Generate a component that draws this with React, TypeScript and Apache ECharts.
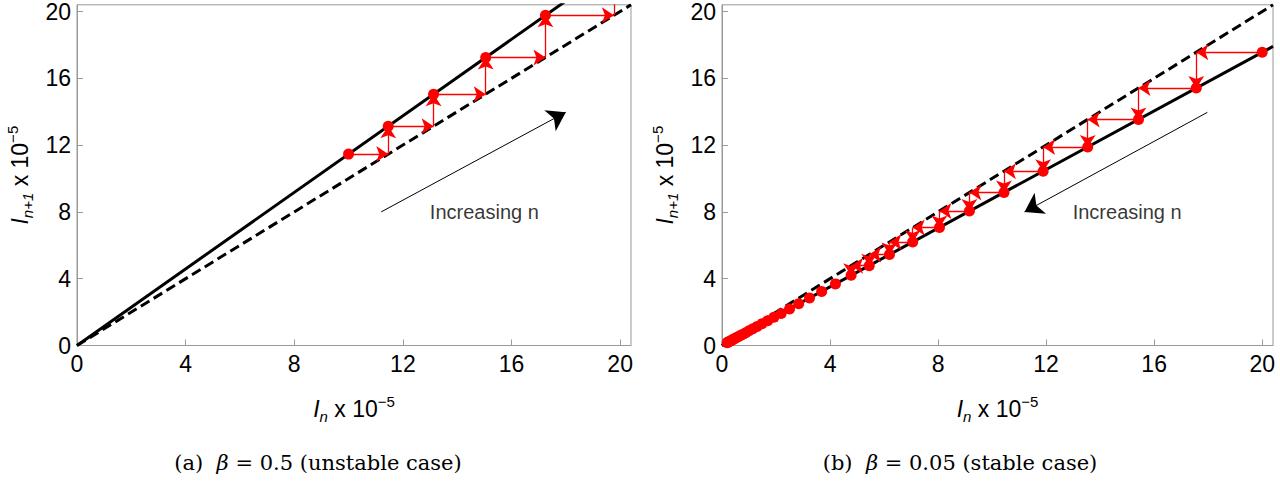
import React, { useEffect, useRef } from "react";
import * as echarts from "echarts";

// Iterates I_n (x 10^-5)
const LEFT_IN = [10.0, 11.46, 13.13, 15.05, 17.25, 19.77, 22.66];
const RIGHT_IN = [
  20.0, 17.56, 15.42, 13.54, 11.89, 10.44, 9.16, 8.05, 7.06, 6.2, 5.45, 4.78,
  4.2, 3.69, 3.24, 2.84, 2.5, 2.19, 1.92, 1.69, 1.48, 1.3, 1.14, 1.0, 0.88,
  0.77, 0.68, 0.6, 0.52, 0.46, 0.4, 0.36, 0.31, 0.27, 0.24, 0.21, 0.19, 0.16,
];
const LEFT_ARROW_STEPS = 5;
const RIGHT_ARROW_STEPS = 11;

// Reference lines (endpoints)
const LEFT_SOLID = [[0, 0], [20.4, 23.38]];
const RIGHT_SOLID = [[0, 0], [20.4, 17.91]];
const DIAGONAL = [[0, 0], [20.4, 20.4]];

// "Increasing n" arrows and labels
const LEFT_TREND = [[11.2, 8.0], [18.0, 13.97]];
const RIGHT_TREND = [[17.97, 13.96], [11.2, 8.0]];
const TREND_LABEL_POS = [15.0, 8.0];
const TREND_LABEL = "Increasing n";

const AXIS_MAX = 20.4;
const TICK_STEP = 4;
const CAPTIONS = ["(a)  {m|β} = 0.5 (unstable case)", "(b)  {m|β} = 0.05 (stable case)"];

const RED = "#ff0000";
const SANS = "Liberation Sans";
const SERIF = "DejaVu Serif";

function points(seq: number[]) {
  const pts: number[][] = [];
  for (let k = 0; k < seq.length - 1; k++) pts.push([seq[k], seq[k + 1]]);
  return pts;
}

function stairs(seq: number[], steps: number) {
  const arr: any[] = [];
  for (let k = 0; k < steps && k + 2 < seq.length; k++) {
    arr.push({ coords: [[seq[k], seq[k + 1]], [seq[k + 1], seq[k + 1]]] });
    arr.push({ coords: [[seq[k + 1], seq[k + 1]], [seq[k + 1], seq[k + 2]]] });
  }
  return arr;
}

const richName = {
  i: { fontSize: 23, fontStyle: "italic", lineHeight: 30, fontFamily: SANS, color: "#000" },
  sub: { fontSize: 15, fontStyle: "italic", lineHeight: 15, verticalAlign: "bottom", fontFamily: SANS, color: "#000" },
  t: { fontSize: 23, lineHeight: 30, fontFamily: SANS, color: "#000" },
  sup: { fontSize: 15, lineHeight: 15, verticalAlign: "top", fontFamily: SANS, color: "#000" },
};

function xAxis(gridIndex: number) {
  return {
    type: "value",
    gridIndex,
    min: 0,
    max: AXIS_MAX,
    interval: TICK_STEP,
    name: "{i|I}{sub|n}{t| x 10}{sup|−5}",
    nameLocation: "middle",
    nameGap: 48,
    nameTextStyle: { rich: richName, fontFamily: SANS },
    axisLine: { show: true, lineStyle: { color: "#999", width: 1 } },
    axisTick: { show: true, inside: true, length: 6, lineStyle: { color: "#999" } },
    axisLabel: {
      show: true,
      fontSize: 23,
      fontFamily: SANS,
      color: "#000",
      margin: 7,
      showMaxLabel: false,
      formatter: (v: number) => (v % TICK_STEP === 0 ? String(v) : ""),
    },
    splitLine: { show: false },
  };
}

function yAxis(gridIndex: number) {
  return {
    type: "value",
    gridIndex,
    min: 0,
    max: AXIS_MAX,
    interval: TICK_STEP,
    name: "{i|I}{sub|n+1}{t| x 10}{sup|−5}",
    nameLocation: "middle",
    nameGap: 42,
    nameTextStyle: { rich: richName, fontFamily: SANS },
    axisLine: { show: true, lineStyle: { color: "#999", width: 1 } },
    axisTick: { show: true, inside: true, length: 6, lineStyle: { color: "#999" } },
    axisLabel: {
      show: true,
      fontSize: 23,
      fontFamily: SANS,
      color: "#000",
      margin: 6,
      showMaxLabel: false,
      formatter: (v: number) => (v % TICK_STEP === 0 ? String(v) : ""),
    },
    splitLine: { show: false },
  };
}

function panelSeries(idx: number, solid: number[][], seq: number[], steps: number, trend: number[][]) {
  return [
    {
      type: "line",
      xAxisIndex: idx,
      yAxisIndex: idx,
      data: DIAGONAL,
      showSymbol: false,
      lineStyle: { color: "#000", width: 3, type: [10, 5] },
      z: 2,
    },
    {
      type: "line",
      xAxisIndex: idx,
      yAxisIndex: idx,
      data: solid,
      showSymbol: false,
      lineStyle: { color: "#000", width: 3 },
      z: 2,
    },
    {
      type: "lines",
      coordinateSystem: "cartesian2d",
      xAxisIndex: idx,
      yAxisIndex: idx,
      data: stairs(seq, steps),
      symbol: ["none", "arrow"],
      symbolSize: [6, 12],
      lineStyle: { color: RED, width: 1.3, opacity: 1 },
      itemStyle: { color: RED },
      clip: true,
      z: 3,
    },
    {
      type: "scatter",
      xAxisIndex: idx,
      yAxisIndex: idx,
      data: points(seq),
      symbol: "circle",
      symbolSize: 11,
      itemStyle: { color: RED, opacity: 1 },
      clip: true,
      z: 4,
    },
    {
      type: "lines",
      coordinateSystem: "cartesian2d",
      xAxisIndex: idx,
      yAxisIndex: idx,
      data: [{ coords: trend }],
      symbol: ["none", "arrow"],
      symbolSize: [10, 18],
      lineStyle: { color: "#000", width: 1, opacity: 1 },
      itemStyle: { color: "#000" },
      z: 3,
    },
    {
      type: "scatter",
      xAxisIndex: idx,
      yAxisIndex: idx,
      data: [TREND_LABEL_POS],
      symbolSize: 0,
      label: {
        show: true,
        position: "inside",
        formatter: TREND_LABEL,
        fontSize: 20,
        fontFamily: SANS,
        color: "#000",
      },
      z: 5,
    },
  ];
}

export default function App() {
  const ref = useRef<HTMLDivElement>(null);
  useEffect(() => {
    if (!ref.current) return;
    const chart = echarts.init(ref.current, null, { renderer: "svg" });
    const captionRich = {
      m: { fontFamily: SERIF, fontStyle: "italic", fontSize: 21, fill: "#000" },
    };
    const caption = (text: string, cx: number) => ({
      type: "text",
      x: cx,
      y: 463,
      style: {
        text,
        fontFamily: SERIF,
        fontSize: 21,
        fill: "#000",
        rich: captionRich,
        align: "center",
        verticalAlign: "middle",
        textAlign: "center",
        textVerticalAlign: "middle",
      },
    });
    chart.setOption({
      animation: false,
      backgroundColor: "#fff",
      grid: [
        { left: 77, top: 3, width: 554, height: 342.5, show: true, borderColor: "#999", borderWidth: 1, backgroundColor: "transparent" },
        { left: 722, top: 3, width: 551, height: 342.5, show: true, borderColor: "#999", borderWidth: 1, backgroundColor: "transparent" },
      ],
      xAxis: [xAxis(0), xAxis(1)],
      yAxis: [yAxis(0), yAxis(1)],
      series: [
        ...panelSeries(0, LEFT_SOLID, LEFT_IN, LEFT_ARROW_STEPS, LEFT_TREND),
        ...panelSeries(1, RIGHT_SOLID, RIGHT_IN, RIGHT_ARROW_STEPS, RIGHT_TREND),
      ],
      graphic: [caption(CAPTIONS[0], 318), caption(CAPTIONS[1], 960)],
    });
    return () => chart.dispose();
  }, []);
  return (
    <div
      ref={ref}
      style={{ position: "absolute", left: 0, top: 0, width: 1280, height: 488, background: "#fff" }}
    />
  );
}
